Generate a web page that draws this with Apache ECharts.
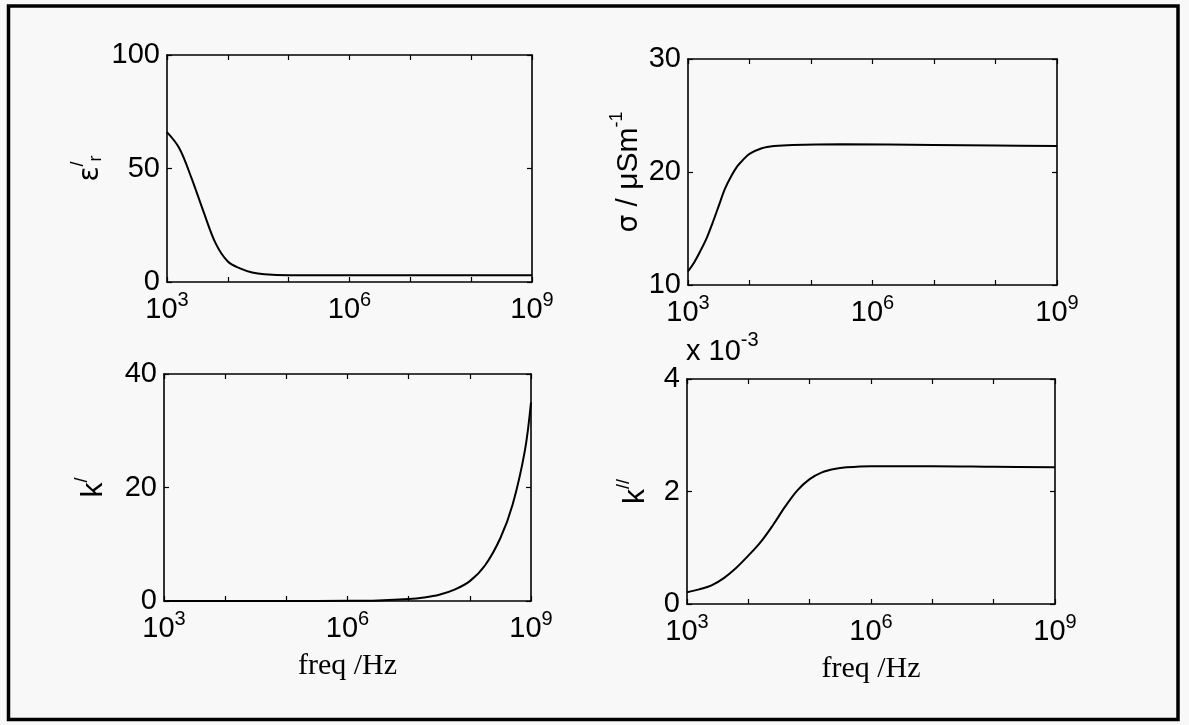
<!DOCTYPE html>
<html>
<head>
<meta charset="utf-8">
<script src="https://cdn.jsdelivr.net/npm/echarts@6/dist/echarts.min.js"></script>
<style>
html,body{margin:0;padding:0;background:#f8f8f8;}
#c{width:1189px;height:725px;}
</style>
</head>
<body>
<div id="c"></div>
<script>
// ---- data (frequency in Hz) ----
const freqEps = [1e3, 1.585e3, 2.512e3, 3.981e3, 6.31e3, 1e4, 1.585e4, 2.512e4, 3.981e4, 1e5, 1e6, 1e7, 1e8, 1e9];
const epsR    = [66,   59,     46,      31,      17,     9,   6,       4.2,     3.4,     3.0, 3.0, 3.0, 3.0, 3.0];

const freqSig = [1e3, 1.259e3, 1.585e3, 1.995e3, 2.512e3, 3.162e3, 3.981e3, 5.012e3, 6.31e3, 7.943e3, 1e4, 1.585e4, 2.512e4, 5.012e4, 3.162e5, 1e7, 1e8, 1e9];
const sigma   = [11.2, 12.0,   13.0,    14.1,    15.5,    17.0,    18.5,    19.6,    20.5,   21.1,    21.6, 22.1,   22.3,    22.4,    22.45,   22.4, 22.35, 22.3];

const freqKr  = [1e3, 1e5, 1e6, 3.162e6, 1e7, 1.778e7, 3.162e7, 5.623e7, 1e8, 1.778e8, 3.162e8, 5.012e8, 7.943e8, 1e9];
const kReal   = [0,   0.01, 0.04, 0.11,  0.35, 0.62,   1.1,     2.0,     3.5, 6.3,     11.1,    17.0,    26.5,    35];

const freqKi  = [1e3, 1.585e3, 2.512e3, 3.981e3, 6.31e3, 1e4, 1.585e4, 2.512e4, 3.981e4, 6.31e4, 1e5, 1.585e5, 2.512e5, 3.981e5, 1e6, 1e7, 1e8, 1e9];
const kImag   = [0.21, 0.26,   0.33,    0.46,    0.64,   0.86, 1.10,   1.40,    1.73,    2.02,   2.22, 2.34,   2.40,    2.43,    2.45, 2.45, 2.44, 2.43];

const xTickExps = [3, 6, 9];

// ---- helpers ----
const pairs = (xs, ys) => xs.map((x, i) => [x, ys[i]]);
const SANS = 'Liberation Sans';
const SERIF = 'Liberation Serif';

const grids = [
  {left: 167, top: 55,  width: 365, height: 227},
  {left: 688, top: 59,  width: 369, height: 226},
  {left: 164, top: 374, width: 367, height: 227},
  {left: 687, top: 379, width: 368, height: 225}
];

const lineStyle = {color: '#000', width: 1.6};
const tick = {show: true, inside: true, length: 5, lineStyle: {color: '#000', width: 1.2}};

function xAxisFor(gi, withName) {
  const base = {
    type: 'log', logBase: 10, min: 1e3, max: 1e9, gridIndex: gi,
    splitNumber: 6,
    axisLine: {show: true, onZero: false, lineStyle: lineStyle},
    axisTick: tick, splitLine: {show: false}, minorTick: {show: false}
  };
  return [
    Object.assign({}, base, {
      position: 'bottom',
      axisLabel: {
        margin: 8,
        formatter: function (v) {
          const e = Math.round(Math.log10(v));
          return xTickExps.indexOf(e) >= 0 ? '{b|10}{s|' + e + '}' : '';
        },
        rich: {
          b: {fontFamily: SANS, fontSize: 29, color: '#000', verticalAlign: 'bottom', lineHeight: 34},
          s: {fontFamily: SANS, fontSize: 20, color: '#000', verticalAlign: 'top', lineHeight: 34}
        }
      },
      name: withName ? 'freq /Hz' : '',
      nameLocation: 'middle', nameGap: 50,
      nameTextStyle: {fontFamily: SERIF, fontSize: 30, color: '#000'}
    }),
    Object.assign({}, base, {position: 'top', axisLabel: {show: false}})
  ];
}

function yAxisFor(gi, min, max, interval, nameRich, gap) {
  const base = {
    type: 'value', min: min, max: max, interval: interval, gridIndex: gi,
    axisLine: {show: true, onZero: false, lineStyle: lineStyle},
    axisTick: tick, splitLine: {show: false}
  };
  return [
    Object.assign({}, base, {
      position: 'left',
      axisLabel: {fontFamily: SANS, fontSize: 29, color: '#000', margin: 7},
      name: nameRich, nameLocation: 'middle', nameRotate: 90, nameGap: gap,
      nameTextStyle: {
        fontFamily: SANS, fontSize: 30, color: '#000',
        rich: {
          m: {fontFamily: SANS, fontSize: 30, color: '#000', verticalAlign: 'bottom', lineHeight: 36},
          g: {fontFamily: 'DejaVu Sans', fontSize: 28, color: '#000', verticalAlign: 'bottom', lineHeight: 36},
          p: {fontFamily: SANS, fontSize: 18, color: '#000', verticalAlign: 'top', lineHeight: 36},
          r: {fontFamily: SANS, fontSize: 18, color: '#000', verticalAlign: 'bottom', lineHeight: 32}
        }
      }
    }),
    Object.assign({}, base, {position: 'right', axisLabel: {show: false}})
  ];
}

const xAxes = [].concat(xAxisFor(0, false), xAxisFor(1, false), xAxisFor(2, true), xAxisFor(3, true));
const yAxes = [].concat(
  yAxisFor(0, 0, 100, 50, '{g|ε}{p|/}{r|r}', 62),
  yAxisFor(1, 10, 30, 10, '{g|σ}{m| / μSm}{p|-1}', 44),
  yAxisFor(2, 0, 40, 20, '{m|k}{p|/}', 55),
  yAxisFor(3, 0, 4, 2, '{m|k}{p|//}', 36)
);

function lineSeries(gi, data) {
  return {
    type: 'line', xAxisIndex: gi * 2, yAxisIndex: gi * 2, data: data,
    showSymbol: false, smooth: 0.35, lineStyle: {color: '#000', width: 2}, silent: true
  };
}

const chart = echarts.init(document.getElementById('c'), null, {renderer: 'canvas'});
chart.setOption({
  backgroundColor: '#f8f8f8',
  animation: false,
  grid: grids,
  xAxis: xAxes,
  yAxis: yAxes,
  series: [
    lineSeries(0, pairs(freqEps, epsR)),
    lineSeries(1, pairs(freqSig, sigma)),
    lineSeries(2, pairs(freqKr, kReal)),
    lineSeries(3, pairs(freqKi, kImag))
  ],
  graphic: [
    {type: 'rect', shape: {x: 8.5, y: 6, width: 1169.5, height: 713.5},
     style: {fill: 'none', stroke: '#000', lineWidth: 3.5}, silent: true},
    {type: 'text', left: 686, top: 330,
     style: {text: '{a|x 10}{b|-3}',
       rich: {
         a: {fontFamily: SANS, fontSize: 29, fill: '#000', verticalAlign: 'bottom', lineHeight: 36},
         b: {fontFamily: SANS, fontSize: 20, fill: '#000', verticalAlign: 'top', lineHeight: 36}
       }}}
  ]
});
</script>
</body>
</html>
